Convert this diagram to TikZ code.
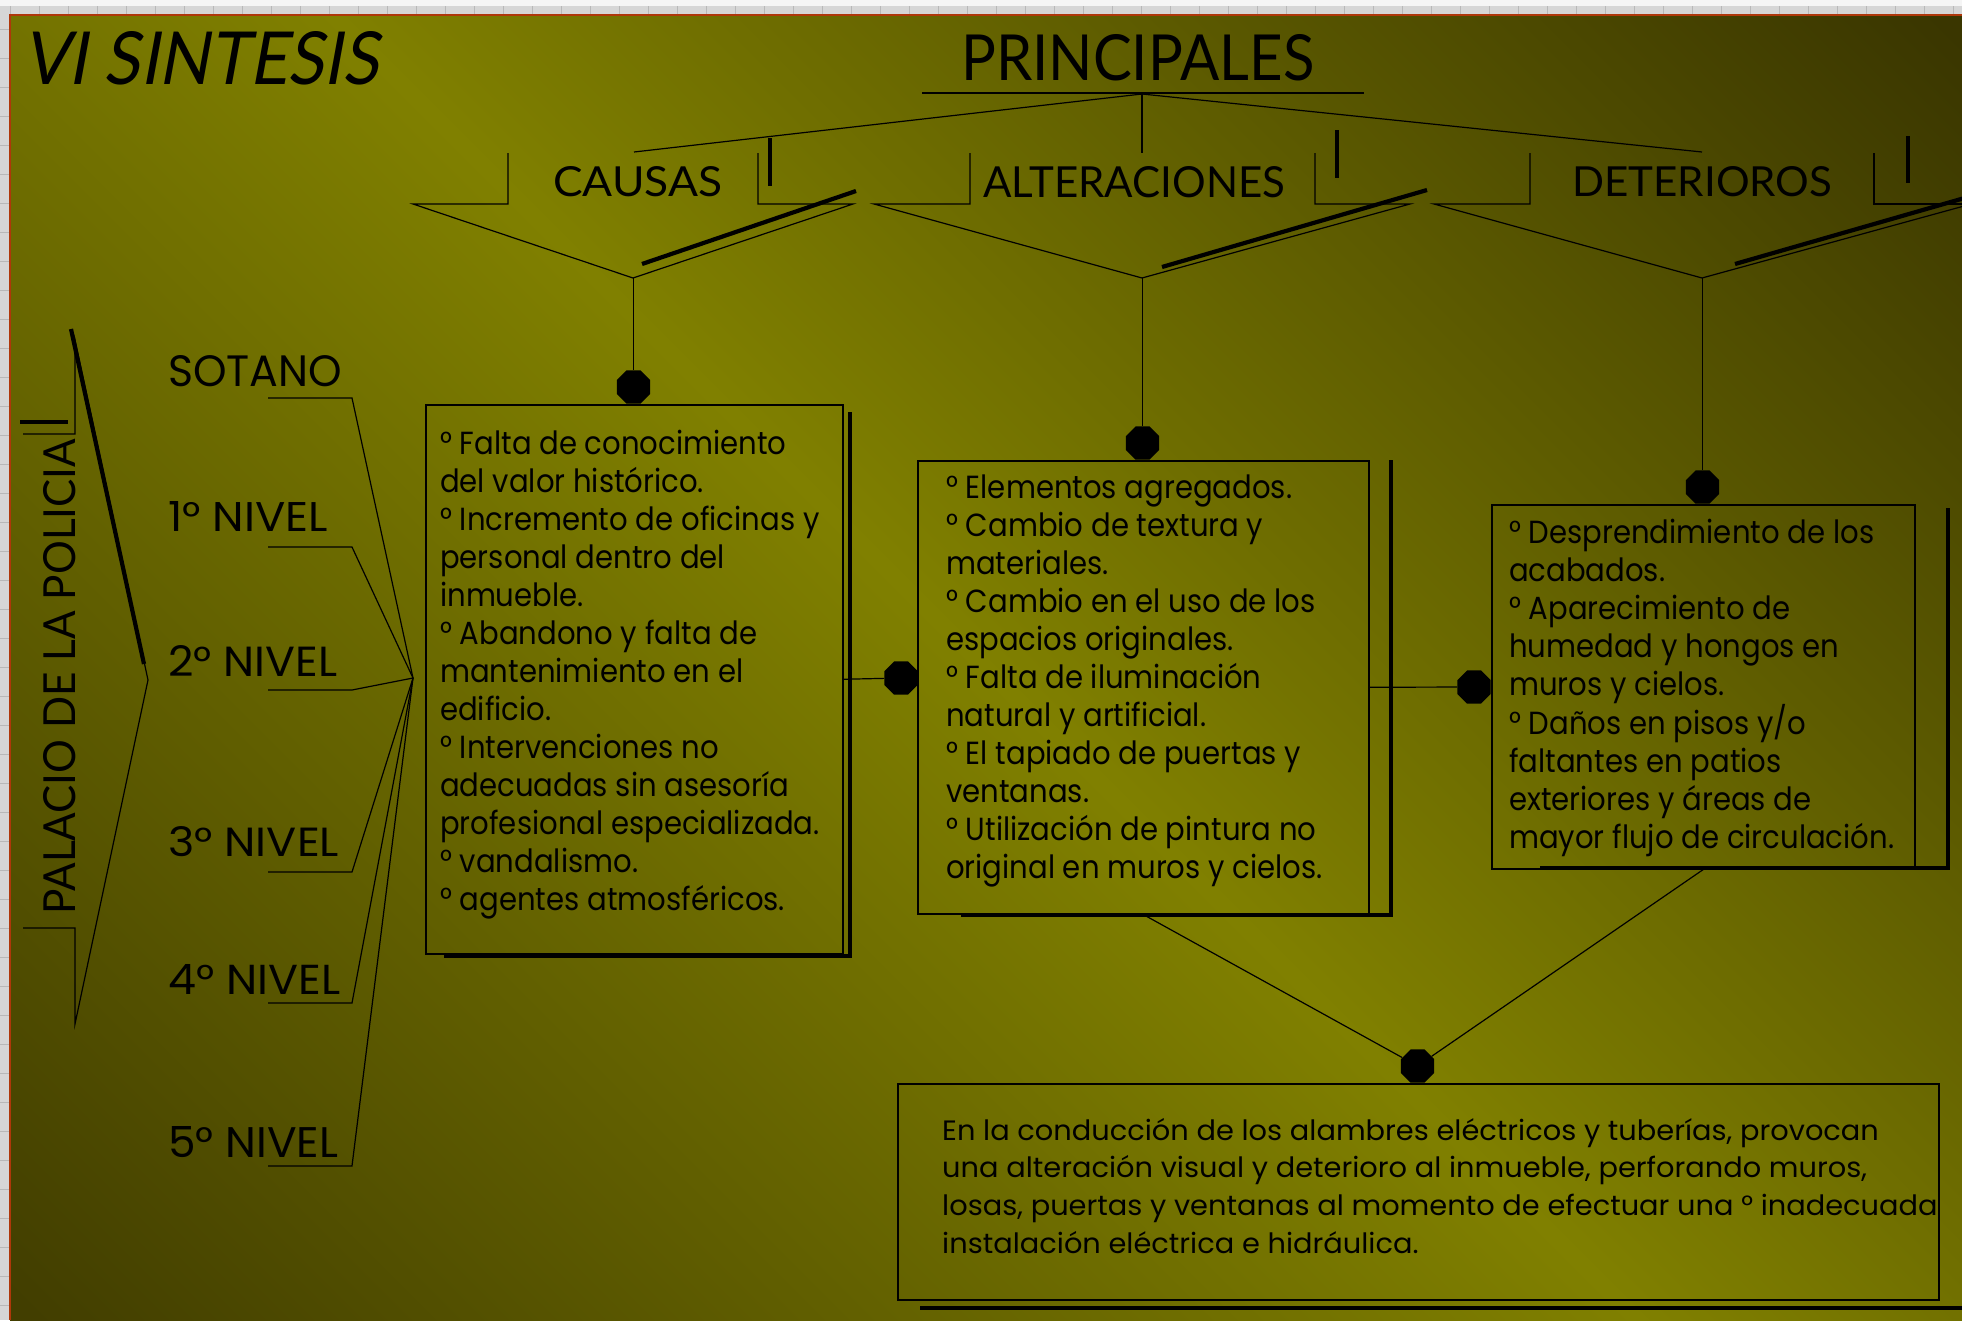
\documentclass[tikz,border=0pt]{standalone}
\usepackage{fontspec}
\usepackage{graphicx}
\usetikzlibrary{shapes.geometric}
\setmainfont{Poppins}
\newfontfamily\bodyfont[FakeStretch=0.91]{Poppins}
\newfontfamily\notefont[FakeStretch=1.03]{Poppins}
\newfontfamily\headfont{Lato}
\newfontfamily\slfont[FakeSlant=0.2]{Lato}
\definecolor{olbright}{RGB}{128,128,0}
\definecolor{oldarkTR}{RGB}{58,54,0}
\definecolor{oldarkBL}{RGB}{66,62,0}
\definecolor{frameRed}{RGB}{175,55,10}
\definecolor{gridgray}{RGB}{214,214,214}
\pgfdeclarehorizontalshading{olivebg}{100bp}{color(0bp)=(oldarkBL); color(15bp)=(oldarkBL); color(50bp)=(olbright); color(85bp)=(oldarkTR); color(100bp)=(oldarkTR)}
\newcommand{\fitlabel}[3]{\resizebox{#1pt}{#2pt}{#3}}
\newcommand{\bodybox}[1]{\parbox[t]{700pt}{\raggedright\bodyfont\fontsize{32}{38}\selectfont #1}}
\newcommand{\notebox}[1]{\parbox[t]{1100pt}{\raggedright\notefont\fontsize{28}{37.7}\selectfont #1}}
\begin{document}
\begin{tikzpicture}[x=1pt,y=-1pt,
  thinln/.style={line width=1.2pt, black},
  thickln/.style={line width=4.2pt, black},
  panel/.style={draw=black, line width=1.5pt, inner sep=0pt, anchor=north west},
  dot/.style={regular polygon, regular polygon sides=8, fill=black, inner sep=0pt, minimum size=36pt},
  heading/.style={inner sep=0pt, anchor=base west},
  bodytext/.style={inner sep=0pt, anchor=base west}]
\useasboundingbox (0,0) rectangle (1962,1320);
% frame / background
\fill[gridgray] (0,0) rectangle (1962,1320);
\fill[black!4] (0,0) rectangle (1962,6);
\foreach \k in {0,...,67} \draw[black!28, line width=0.8pt] ({10+29*\k},6) -- ({10+29*\k},14);
\foreach \k in {0,...,45} \draw[black!28, line width=0.8pt] (0,{29+29*\k}) -- (9,{29+29*\k});
\shade[shading=olivebg, shading angle=45] (10,15) rectangle (1962,1320);
\draw[frameRed, line width=2.5pt] (10,1320) -- (10,15) -- (1962,15);

% titles
\node[heading] (vi) at (23,84) {\fitlabel{355}{53}{\slfont VI SINTESIS}};
\node[heading] (principales) at (961,80) {\fitlabel{353}{46}{\headfont PRINCIPALES}};
\draw[thinln] (922,93) -- (1364,93);
\coordinate (fan) at (1142,94);
\coordinate (fanC) at (634,152);
\coordinate (fanA) at (1142,153);
\coordinate (fanD) at (1702,152);
\draw[thinln] (fan) -- (fanC);
\draw[thinln] (fan) -- (fanA);
\draw[thinln] (fan) -- (fanD);

% header chevrons
\node[heading] (causasT) at (553,196) {\fitlabel{169}{30}{\headfont CAUSAS}};
\node[heading] (alterT) at (983,197) {\fitlabel{302}{31}{\headfont ALTERACIONES}};
\node[heading] (deterT) at (1572,196) {\fitlabel{260}{30}{\headfont DETERIOROS}};
\draw[thinln] (508,153) -- (508,204) -- (413,204) -- (633,278) -- (853,204) -- (758,204) -- (758,153);
\draw[thickln] (642,264) -- (856,191);
\draw[thickln] (770,138) -- (770,186);
\draw[thinln] (970,153) -- (970,204) -- (874,204) -- (1142,278) -- (1410,204) -- (1315,204) -- (1315,153);
\draw[thickln] (1162,267) -- (1427,190);
\draw[thickln] (1337,130) -- (1337,178);
\draw[thinln] (1530,153) -- (1530,204) -- (1434,204) -- (1702,278) -- (1975,203);
\draw[thinln] (1874,153) -- (1874,204) -- (1975,204);
\draw[thickln] (1735,264) -- (1975,195);
\draw[thickln] (1908,136) -- (1908,183);
\coordinate (apexC) at (633.5,278);
\coordinate (apexA) at (1142.5,278);
\coordinate (apexD) at (1702.5,278);

% left bracket
\node[heading, rotate=90] (palacio) at (75,915) {\fitlabel{476}{32}{\headfont PALACIO DE LA POLICIA}};
\draw[thinln] (23,434) -- (75,434) -- (75,340) -- (148,680) -- (75,1024) -- (75,928) -- (23,928);
\draw[thickln] (71,329) -- (144,664);
\draw[thickln] (20,422) -- (68,422);

% levels
\node[heading] (sot) at (168,386) {\fitlabel{174}{31}{SOTANO}};
\node[heading] (n1) at (168,531) {\fitlabel{160}{30}{1° NIVEL}};
\node[heading] (n2) at (168,676) {\fitlabel{169}{31}{2° NIVEL}};
\node[heading] (n3) at (168,856) {\fitlabel{171}{30}{3° NIVEL}};
\node[heading] (n4) at (168,994) {\fitlabel{172}{30}{4° NIVEL}};
\node[heading] (n5) at (168,1157) {\fitlabel{170}{31}{5° NIVEL}};
\coordinate (conv) at (413,678);
\draw[thinln] (268,398) -- (352,398) -- (conv);
\draw[thinln] (268,547) -- (352,547) -- (conv);
\draw[thinln] (268,690) -- (352,690) -- (conv);
\draw[thinln] (268,872) -- (352,872) -- (conv);
\draw[thinln] (268,1003) -- (352,1003) -- (conv);
\draw[thinln] (268,1166) -- (352,1166) -- (conv);

% panels
\node[panel, minimum width=417, minimum height=549] (causas) at (425,404) {};
\node[panel, minimum width=451, minimum height=453] (alter) at (917,460) {};
\node[panel, minimum width=423, minimum height=364] (deter) at (1491,504) {};
\node[panel, minimum width=1041, minimum height=216] (bottom) at (897,1083) {};
% shadows
\draw[thickln] (444,956) -- (850,956) -- (850,412);
\draw[thickln] (961,915) -- (1391,915) -- (1391,460);
\draw[thickln] (1540,868) -- (1948,868) -- (1948,508);
\draw[thickln] (920,1308) -- (1975,1308);

% dots
\node[dot] (d1) at (633.5,387) {};
\node[dot] (d2) at (1142.5,443) {};
\node[dot] (d3) at (1702.5,487) {};
\node[dot] (d4) at (901,678) {};
\node[dot] (d5) at (1474,687) {};
\node[dot] (d6) at (1417.5,1066) {};

% connectors
\draw[thinln] (apexC) -- (d1);
\draw[thinln] (apexA) -- (d2);
\draw[thinln] (apexD) -- (d3);
\draw[thinln] (causas.east) -- (d4);
\draw[thinln] (alter.east) -- (d5);
\draw[thinln] (alter.south) -- (d6);
\draw[thinln] (deter.south) -- (d6);

% texts
\node[bodytext] (causasTxt) at (440,454) {\bodybox{° Falta de conocimiento\\del valor histórico.\\° Incremento de oficinas y\\personal dentro del\\inmueble.\\° Abandono y falta de\\mantenimiento en el\\edificio.\\° Intervenciones no\\adecuadas sin asesoría\\profesional especializada.\\° vandalismo.\\° agentes atmosféricos.}};
\node[bodytext] (alterTxt) at (946,498) {\bodybox{° Elementos agregados.\\° Cambio de textura y\\materiales.\\° Cambio en el uso de los\\espacios originales.\\° Falta de iluminación\\natural y artificial.\\° El tapiado de puertas y\\ventanas.\\° Utilización de pintura no\\original en muros y cielos.}};
\node[bodytext] (deterTxt) at (1509,543) {\bodybox{° Desprendimiento de los\\acabados.\\° Aparecimiento de\\humedad y hongos en\\muros y cielos.\\° Daños en pisos y/o\\faltantes en patios\\exteriores y áreas de\\mayor flujo de circulación.}};
\node[bodytext] (bottomTxt) at (942,1140) {\notebox{En la conducción de los alambres eléctricos y tuberías, provocan\\una alteración visual y deterioro al inmueble, perforando muros,\\losas, puertas y ventanas al momento de efectuar una ° inadecuada\\instalación eléctrica e hidráulica.}};
\end{tikzpicture}
\end{document}
